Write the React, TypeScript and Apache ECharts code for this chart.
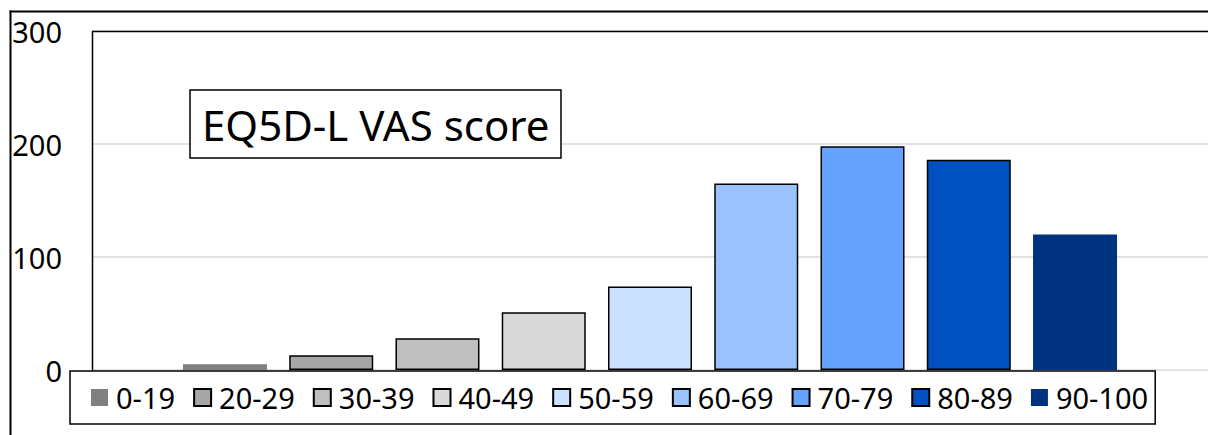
import React, { useEffect, useRef } from "react";
import * as echarts from "echarts";

const categories = ["EQ5D-L VAS"];
const seriesNames = ["0-19", "20-29", "30-39", "40-49", "50-59", "60-69", "70-79", "80-89", "90-100"];
const seriesValues = [5, 13, 28, 51, 74, 165, 198, 186, 120];
const seriesColors = ["#808080", "#A6A6A6", "#BFBFBF", "#D9D9D9", "#CCE0FF", "#99C2FF", "#66A3FF", "#0050BF", "#00337F"];
const seriesBorder = [false, true, true, true, true, true, true, true, false];
const yTicks = [0, 100, 200, 300];
const titleText = "EQ5D-L VAS score";

const FONT = "'Noto Sans', sans-serif";

export default function App() {
  const ref = useRef<HTMLDivElement>(null);
  useEffect(() => {
    if (!ref.current) return;
    const chart = echarts.init(ref.current, undefined, { renderer: "svg" });
    const series = seriesNames.map((name, i) => ({
      name,
      type: "bar",
      data: [seriesValues[i]],
      barWidth: 84,
      barGap: "26.5%",
      itemStyle: {
        color: seriesColors[i],
        borderColor: seriesBorder[i] ? "#000" : "transparent",
        borderWidth: seriesBorder[i] ? 1.5 : 0,
      },
    }));
    chart.setOption({
      animation: false,
      backgroundColor: "#fff",
      textStyle: { fontFamily: FONT },
      title: {
        text: titleText,
        left: 190,
        top: 90,
        padding: [13, 12, 13, 12],
        borderColor: "#000",
        borderWidth: 1.5,
        backgroundColor: "#fff",
        textStyle: { fontFamily: FONT, fontSize: 42, fontWeight: "normal", color: "#000" },
        z: 10,
      },
      grid: { left: 92, right: -2, top: 31, bottom: 65, containLabel: false },
      xAxis: {
        type: "category",
        data: categories,
        axisLine: { show: false },
        axisTick: { show: false },
        axisLabel: { show: false },
      },
      yAxis: {
        type: "value",
        min: yTicks[0],
        max: yTicks[yTicks.length - 1],
        interval: 100,
        axisLine: { show: false },
        axisTick: { show: false },
        axisLabel: { fontSize: 29, color: "#000", margin: 30, fontFamily: FONT },
        splitLine: { lineStyle: { color: "#d9d9d9", width: 1.5 } },
      },
      legend: {
        data: seriesNames,
        icon: "rect",
        left: 70,
        top: 371,
        orient: "horizontal",
        itemWidth: 17,
        itemHeight: 17,
        itemGap: 18,
        padding: [12, 7, 12, 21],
        borderColor: "#000",
        borderWidth: 1.5,
        backgroundColor: "#fff",
        textStyle: { fontSize: 29, color: "#000", fontFamily: FONT, padding: [0, 0, 0, 3] },
        z: 10,
      },
      graphic: [
        {
          type: "line",
          shape: { x1: 9.5, y1: 11.5, x2: 1208, y2: 11.5 },
          style: { stroke: "#000", lineWidth: 2 },
          z: 100,
          silent: true,
        },
        {
          type: "line",
          shape: { x1: 10.5, y1: 10.5, x2: 10.5, y2: 435 },
          style: { stroke: "#000", lineWidth: 2 },
          z: 100,
          silent: true,
        },
        {
          type: "line",
          shape: { x1: 92, y1: 31.5, x2: 1208, y2: 31.5 },
          style: { stroke: "#000", lineWidth: 1.5 },
          z: 5,
          silent: true,
        },
        {
          type: "line",
          shape: { x1: 92.5, y1: 31, x2: 92.5, y2: 371 },
          style: { stroke: "#000", lineWidth: 1.5 },
          z: 5,
          silent: true,
        },
      ],
      series,
    });
    return () => chart.dispose();
  }, []);
  return (
    <div
      ref={ref}
      style={{ position: "fixed", left: 0, top: 0, width: 1208, height: 435 }}
    />
  );
}
